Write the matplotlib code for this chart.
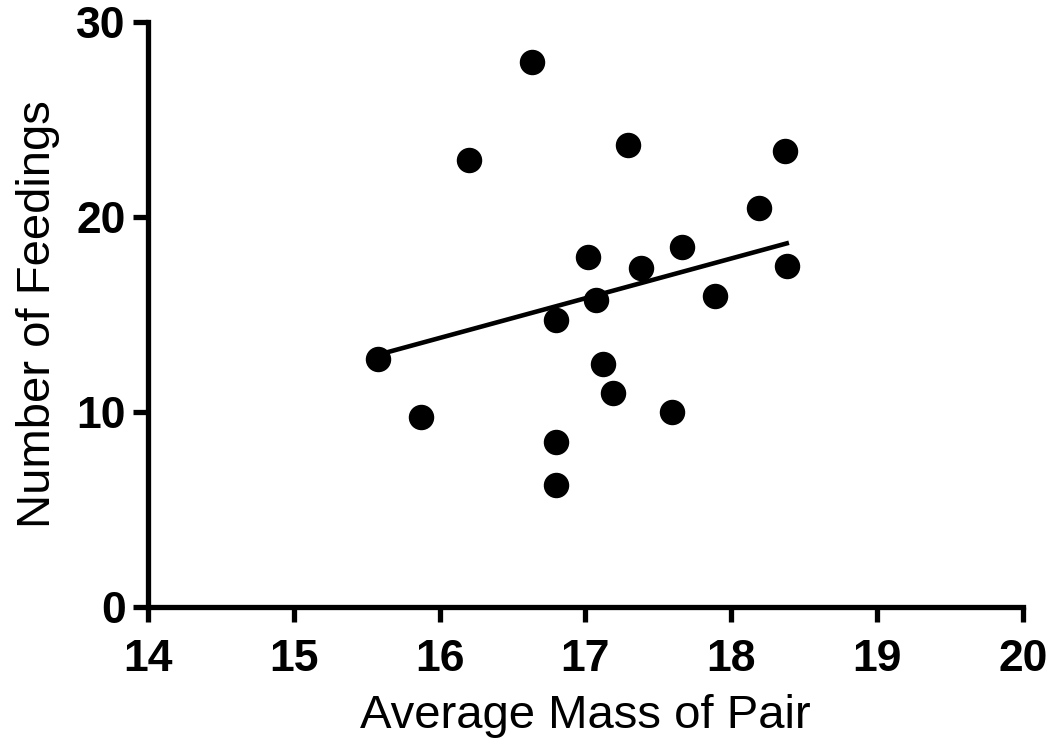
import numpy as np
import matplotlib
matplotlib.use("Agg")
import matplotlib.pyplot as plt

plt.rcParams["font.family"] = ["Liberation Sans", "DejaVu Sans"]

# average mass of pair vs number of feedings
mass = [15.58, 15.87, 16.20, 16.63, 16.80, 16.80, 16.80, 17.02, 17.07, 17.12,
        17.19, 17.29, 17.38, 17.59, 17.66, 17.89, 18.19, 18.37, 18.38]
feedings = [12.7, 9.75, 22.9, 27.95, 14.7, 8.45, 6.25, 17.95, 15.75, 12.45,
            10.95, 23.7, 17.4, 10.0, 18.45, 15.95, 20.45, 23.4, 17.5]

x_ticks = [14, 15, 16, 17, 18, 19, 20]
y_ticks = [0, 10, 20, 30]

fig = plt.figure(figsize=(10.52, 7.47), dpi=100)
ax = fig.add_axes([0.1407, 0.1874, 0.8317, 0.7831])

ax.scatter(mass, feedings, s=300, color="black", zorder=3, clip_on=False)

# linear fit over the range of the data
k, b = np.polyfit(mass, feedings, 1)
xs = np.array([min(mass), max(mass)])
ax.plot(xs, k * xs + b, color="black", lw=3.3, zorder=2)

ax.set_xlim(14, 20)
ax.set_ylim(0, 30)
ax.set_xticks(x_ticks)
ax.set_yticks(y_ticks)

for s in ["top", "right"]:
    ax.spines[s].set_visible(False)
for s in ["left", "bottom"]:
    ax.spines[s].set_linewidth(3.8)

ax.tick_params(direction="out", length=11, width=3.8, labelsize=32)
ax.tick_params(axis="y", pad=5)
ax.tick_params(axis="x", pad=12)
for lab in ax.get_xticklabels() + ax.get_yticklabels():
    lab.set_fontweight("bold")

ax.set_xlabel("Average Mass of Pair", fontsize=34, labelpad=10)
ax.set_ylabel("Number of Feedings", fontsize=34, labelpad=12)

fig.savefig("out.png", dpi=100)
